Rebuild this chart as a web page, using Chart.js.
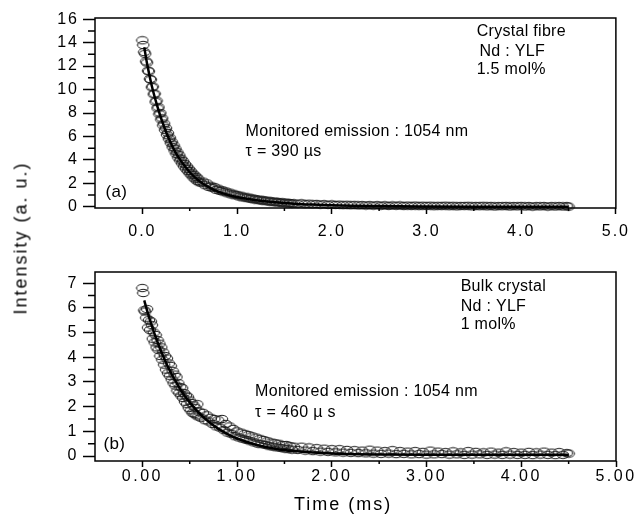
<!DOCTYPE html>
<html>
<head>
<meta charset="utf-8">
<script src="https://cdn.jsdelivr.net/npm/chart.js@4.4.1/dist/chart.umd.min.js"></script>
<style>
  html, body { margin: 0; padding: 0; background: #fff; }
  #wrap { position: relative; width: 635px; height: 524px; overflow: hidden; }
  canvas { position: absolute; left: 0; }
  #topChart { top: 0; }
  #bottomChart { top: 250px; }
  #yTitle {
    position: absolute; left: 21px; top: 238px;
    transform: translate(-50%, -50%) rotate(-90deg);
    font: 18px 'Liberation Sans', Arial, sans-serif;
    letter-spacing: 2px; white-space: nowrap; color: #000;
  }
</style>
</head>
<body>
<div id="wrap">
  <canvas id="topChart" width="635" height="250"></canvas>
  <canvas id="bottomChart" width="635" height="274"></canvas>
  <div id="yTitle">Intensity (a. u.)</div>
</div>
<script>
// ======== Data ========
// sampling times (ms), shared by both decays
const timeMs = [
  0.00,0.01,0.02,0.03,0.04,0.05,0.06,0.07,0.08,0.09,
  0.10,0.11,0.12,0.13,0.14,0.15,0.16,0.17,0.18,0.19,
  0.20,0.21,0.22,0.23,0.24,0.25,0.26,0.27,0.28,0.29,
  0.30,0.31,0.32,0.33,0.34,0.35,0.36,0.37,0.38,0.39,
  0.40,0.41,0.42,0.43,0.44,0.45,0.46,0.47,0.48,0.49,
  0.50,0.51,0.52,0.53,0.54,0.55,0.56,0.57,0.58,0.59,
  0.60,
  0.62,0.64,0.66,0.68,0.70,0.72,0.74,0.76,0.78,0.80,
  0.82,0.84,0.86,0.88,0.90,0.92,0.94,0.96,0.98,1.00,
  1.02,1.04,1.06,1.08,1.10,1.12,1.14,1.16,1.18,1.20,
  1.22,1.24,1.26,1.28,1.30,1.32,1.34,1.36,1.38,1.40,
  1.42,1.44,1.46,1.48,1.50,1.52,1.54,1.56,1.58,1.60,
  1.64,1.68,1.72,1.76,1.80,1.84,1.88,1.92,1.96,2.00,
  2.04,2.08,2.12,2.16,2.20,2.24,2.28,2.32,2.36,2.40,
  2.44,2.48,2.52,2.56,2.60,2.64,2.68,2.72,2.76,2.80,
  2.84,2.88,2.92,2.96,3.00,3.04,3.08,3.12,3.16,3.20,
  3.24,3.28,3.32,3.36,3.40,3.44,3.48,3.52,3.56,3.60,
  3.64,3.68,3.72,3.76,3.80,3.84,3.88,3.92,3.96,4.00,
  4.04,4.08,4.12,4.16,4.20,4.24,4.28,4.32,4.36,4.40,
  4.44,4.48,4.50
];

// (a) crystal fibre, measured points
const fibreIntensity = [
  14.20,13.80,13.20,13.05,12.40,12.30,11.60,11.55,10.90,10.85,
  10.20,10.25,9.60,9.65,8.95,9.05,8.40,8.50,7.90,8.00,
  7.45,7.55,6.95,7.10,6.55,6.70,6.15,6.30,5.80,5.90,
  5.45,5.55,5.10,5.25,4.80,4.95,4.50,4.65,4.20,4.40,
  3.95,4.10,3.70,3.90,3.45,3.65,3.25,3.45,3.05,3.25,
  2.85,3.05,2.70,2.85,2.50,2.70,2.35,2.55,2.20,2.40,
  2.10,
  2.05,2.15,1.85,2.00,1.70,1.80,1.60,1.70,1.45,1.55,
  1.35,1.42,1.25,1.32,1.15,1.22,1.05,1.12,0.98,1.02,
  0.88,0.95,0.80,0.86,0.74,0.80,0.68,0.73,0.62,0.66,
  0.57,0.62,0.52,0.57,0.48,0.53,0.44,0.48,0.40,0.45,
  0.37,0.42,0.34,0.39,0.31,0.36,0.29,0.33,0.27,0.30,
  0.26,0.30,0.23,0.27,0.21,0.25,0.19,0.23,0.17,0.21,
  0.16,0.19,0.14,0.18,0.13,0.17,0.12,0.15,0.11,0.14,
  0.10,0.14,0.09,0.13,0.08,0.12,0.09,0.12,0.07,0.11,
  0.07,0.11,0.06,0.10,0.07,0.10,0.05,0.09,0.06,0.10,
  0.05,0.09,0.04,0.08,0.06,0.09,0.04,0.08,0.05,0.09,
  0.04,0.08,0.03,0.07,0.05,0.08,0.03,0.07,0.04,0.08,
  0.03,0.07,0.02,0.06,0.04,0.07,0.02,0.06,0.03,0.07,
  0.03,0.06,0.02
];

// (b) bulk crystal, measured points
const bulkIntensity = [
  6.80,6.60,5.90,5.85,5.60,5.95,5.20,5.50,5.10,5.45,
  5.30,4.75,5.00,4.60,4.90,4.40,4.70,4.30,4.55,4.05,
  4.40,3.90,4.20,3.70,4.05,3.50,3.95,3.35,3.75,3.25,
  3.65,3.10,3.45,2.95,3.30,2.85,3.20,2.65,2.95,2.55,
  2.80,2.45,2.75,2.35,2.55,2.20,2.45,2.10,2.40,1.95,
  2.25,1.85,2.15,1.75,2.05,1.70,1.95,1.65,2.10,1.60,
  1.80,
  1.55,1.75,1.45,1.65,1.40,1.55,1.30,1.50,1.20,1.45,
  1.15,1.50,1.05,1.30,0.95,1.20,0.90,1.10,0.80,1.00,
  0.75,0.95,0.70,0.90,0.65,0.85,0.60,0.80,0.55,0.75,
  0.50,0.70,0.48,0.65,0.45,0.60,0.40,0.55,0.38,0.52,
  0.35,0.50,0.33,0.45,0.30,0.45,0.28,0.40,0.26,0.38,
  0.25,0.38,0.22,0.35,0.20,0.32,0.18,0.30,0.17,0.28,
  0.15,0.28,0.14,0.25,0.13,0.24,0.12,0.22,0.11,0.26,
  0.10,0.22,0.09,0.20,0.10,0.24,0.08,0.20,0.09,0.18,
  0.07,0.20,0.08,0.17,0.06,0.22,0.07,0.18,0.08,0.16,
  0.06,0.19,0.07,0.15,0.05,0.20,0.06,0.17,0.07,0.15,
  0.05,0.18,0.06,0.14,0.05,0.19,0.06,0.16,0.05,0.14,
  0.05,0.17,0.04,0.15,0.06,0.18,0.05,0.14,0.04,0.16,
  0.05,0.12,0.10
];

// fitted decay curves
const fitTime  = [0.02,0.05,0.10,0.15,0.20,0.25,0.30,0.35,0.40,0.45,0.50,0.60,0.70,0.80,0.90,1.00,1.20,1.40,1.60,1.80,2.00,2.50,3.00,3.50,4.00,4.50];
const fibreFit = [13.60,12.20,10.30,8.80,7.50,6.40,5.45,4.65,4.00,3.45,2.95,2.20,1.68,1.30,1.03,0.83,0.57,0.39,0.27,0.19,0.13,0.06,0.03,0.015,0.01,0.005];
const bulkFit  = [6.30,5.89,5.27,4.72,4.22,3.78,3.38,3.03,2.71,2.42,2.17,1.74,1.39,1.11,0.89,0.71,0.46,0.30,0.20,0.14,0.10,0.06,0.05,0.05,0.05,0.05];

// axes
const timeTicks = [0, 1, 2, 3, 4, 5];
const fibreTimeLabels = ['0.0', '1.0', '2.0', '3.0', '4.0', '5.0'];
const bulkTimeLabels  = ['0.00', '1.00', '2.00', '3.00', '4.00', '5.00'];
const fibreYTicks = [0, 2, 4, 6, 8, 10, 12, 14, 16];
const bulkYTicks  = [0, 1, 2, 3, 4, 5, 6, 7];

// ======== Setup ========
const FONT = "'Liberation Sans', Arial, Helvetica, sans-serif";
Chart.defaults.font.family = FONT;
Chart.defaults.color = '#000';

// open ellipse marker like the original plot
const ring = document.createElement('canvas');
ring.width = 14; ring.height = 10;
(function () {
  const c = ring.getContext('2d');
  c.strokeStyle = '#1e1e1e';
  c.lineWidth = 1;
  c.beginPath();
  c.ellipse(7, 5, 5.8, 3.7, 0, 0, Math.PI * 2);
  c.stroke();
})();

// frame, minor ticks, letter spacing and in-plot notes
const panelDecor = {
  id: 'panelDecor',
  beforeDraw(chart, args, opts) { chart.ctx.letterSpacing = opts.tickSpacing || '0px'; },
  beforeDatasetsDraw(chart) { chart.ctx.letterSpacing = '0px'; },
  afterDraw(chart, args, opts) {
    const { ctx, chartArea: a } = chart;
    const x = chart.scales.x, y = chart.scales.y;
    ctx.save();
    ctx.letterSpacing = '0px';
    ctx.strokeStyle = '#000';
    ctx.lineWidth = 1.5;
    ctx.strokeRect(a.left, a.top, a.right - a.left, a.bottom - a.top);

    ctx.beginPath();
    const xt = x.ticks.map(t => t.value);
    for (let i = 0; i < xt.length - 1; i++) {
      const px = x.getPixelForValue((xt[i] + xt[i + 1]) / 2);
      ctx.moveTo(px, a.bottom); ctx.lineTo(px, a.bottom + 3);
    }
    const yt = y.ticks.map(t => t.value);
    for (let i = 0; i < yt.length - 1; i++) {
      const py = y.getPixelForValue((yt[i] + yt[i + 1]) / 2);
      ctx.moveTo(a.left, py); ctx.lineTo(a.left - 7, py);
    }
    ctx.stroke();

    ctx.fillStyle = '#000';
    ctx.textBaseline = 'middle';
    ctx.textAlign = 'left';
    ctx.letterSpacing = '0.3px';
    (opts.notes || []).forEach(n => {
      ctx.font = (n.size || 16) + 'px ' + FONT;
      ctx.fillText(n.text, x.getPixelForValue(n.x), y.getPixelForValue(n.y));
    });

    // axis title under the tick labels
    if (opts.xTitle) {
      ctx.font = '18px ' + FONT;
      ctx.letterSpacing = '2px';
      ctx.textAlign = 'center';
      ctx.fillText(opts.xTitle, x.getPixelForValue(opts.xTitleAt), a.bottom + 44);
    }
    ctx.restore();
  }
};

function makePanel(id, p) {
  return new Chart(document.getElementById(id), {
    type: 'scatter',
    data: {
      datasets: [
        {
          data: fitTime.map((t, i) => ({ x: t, y: p.fit[i] })),
          showLine: true,
          borderColor: '#000',
          borderWidth: 2.5,
          pointRadius: 0,
          cubicInterpolationMode: 'monotone'
        },
        {
          data: timeMs.map((t, i) => ({ x: t, y: p.points[i] })),
          pointStyle: ring,
          pointRadius: 5,
          clip: false
        }
      ]
    },
    options: {
      responsive: false,
      animation: false,
      devicePixelRatio: 1,
      events: [],
      layout: { padding: { top: p.top, right: p.right, left: 0, bottom: 0 } },
      plugins: {
        legend: { display: false },
        tooltip: { enabled: false },
        panelDecor: { notes: p.notes, tickSpacing: p.tickSpacing, xTitle: p.xTitle, xTitleAt: 2.12 }
      },
      scales: {
        x: {
          type: 'linear',
          min: -0.5, max: 5,
          afterBuildTicks: s => { s.ticks = timeTicks.map(v => ({ value: v })); },
          afterFit: s => { s.height = p.xHeight; },
          border: { display: false },
          grid: { drawOnChartArea: false, tickLength: 6, tickWidth: 1.5, tickColor: '#000' },
          ticks: {
            font: { size: 16 }, padding: p.xPad, maxRotation: 0, autoSkip: false,
            callback: (v, i) => p.xLabels[i]
          }
        },
        y: {
          min: p.yMin, max: p.yMax,
          afterBuildTicks: s => { s.ticks = p.yTicks.map(v => ({ value: v })); },
          afterFit: s => { s.width = 95; },
          border: { display: false },
          grid: { drawOnChartArea: false, tickLength: 12, tickWidth: 1.5, tickColor: '#000' },
          ticks: { font: { size: 16 }, padding: 4 }
        }
      }
    },
    plugins: [panelDecor]
  });
}

makePanel('topChart', {
  points: fibreIntensity, fit: fibreFit,
  yMin: -0.1, yMax: 16.1, yTicks: fibreYTicks,
  xLabels: fibreTimeLabels, xPad: 8, xHeight: 42,
  top: 18, right: 18, tickSpacing: '2px',
  notes: [
    { text: 'Crystal fibre', x: 3.53, y: 14.9 },
    { text: 'Nd : YLF', x: 3.56, y: 13.2 },
    { text: '1.5 mol%', x: 3.53, y: 11.7 },
    { text: 'Monitored emission : 1054 nm', x: 1.09, y: 6.4 },
    { text: 'τ = 390 µs', x: 1.09, y: 4.7 },
    { text: '(a)', x: -0.39, y: 1.25, size: 17 }
  ]
});

makePanel('bottomChart', {
  points: bulkIntensity, fit: bulkFit,
  yMin: -0.2, yMax: 7.45, yTicks: bulkYTicks,
  xLabels: bulkTimeLabels, xPad: 0, xHeight: 63, xTitle: 'Time (ms)',
  top: 22, right: 19, tickSpacing: '2.5px',
  notes: [
    { text: 'Bulk crystal', x: 3.36, y: 6.84 },
    { text: 'Nd : YLF', x: 3.36, y: 6.03 },
    { text: '1 mol%', x: 3.36, y: 5.34 },
    { text: 'Monitored emission : 1054 nm', x: 1.19, y: 2.59 },
    { text: 'τ = 460 µ s', x: 1.19, y: 1.74 },
    { text: '(b)', x: -0.41, y: 0.49, size: 17 }
  ]
});
</script>
</body>
</html>
